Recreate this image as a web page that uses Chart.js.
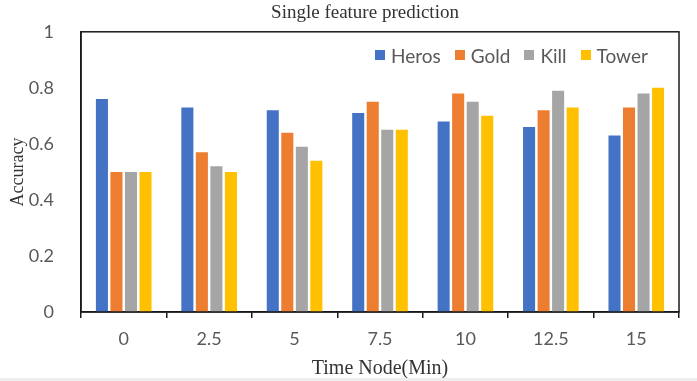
<!DOCTYPE html>
<html>
<head>
<meta charset="utf-8">
<script src="https://cdn.jsdelivr.net/npm/chart.js@4/dist/chart.umd.min.js"></script>
<style>
  html, body { margin: 0; padding: 0; background: #fff; }
  #wrap { width: 697px; height: 381px; position: relative; overflow: hidden; }
  #accChart { position: absolute; left: 0; top: 0; }
  #strip { position: absolute; left: 0; top: 378px; width: 697px; height: 3px; background: #eeeeee; }
  #legendBox { position: absolute; left: 375px; top: 43px; height: 24px; display: flex; align-items: center;
    font-family: 'Lato', sans-serif; font-size: 19px; color: #595959; white-space: nowrap; }
  #legendBox .item { display: flex; align-items: center; margin-right: 14px; }
  #legendBox .box { width: 10px; height: 10px; margin-right: 6px; }
</style>
</head>
<body>
<div id="wrap">
  <canvas id="accChart" width="697" height="381"></canvas>
  <div id="legendBox"></div>
  <div id="strip"></div>
</div>
<script>
// 시간 노드 (분)
var timeNodes = ["0", "2.5", "5", "7.5", "10", "12.5", "15"];

// 특징별 정확도
var heros = [0.76, 0.73, 0.72, 0.71, 0.68, 0.66, 0.63];
var gold  = [0.50, 0.57, 0.64, 0.75, 0.78, 0.72, 0.73];
var kill  = [0.50, 0.52, 0.59, 0.65, 0.75, 0.79, 0.78];
var tower = [0.50, 0.50, 0.54, 0.65, 0.70, 0.73, 0.80];

var seriesNames = ["Heros", "Gold", "Kill", "Tower"];
var seriesColors = ["#4472C4", "#ED7D31", "#A5A5A5", "#FFC000"];

// 차트 영역 테두리 + 제목 위치 보정
var frameBox = {
	id : 'frameBox',
	afterLayout : function(chart) {
		if (chart.titleBlock) {
			chart.titleBlock.left = 51;
			chart.titleBlock.right = 679;
		}
	},
	afterDraw : function(chart) {
		var a = chart.chartArea;
		var c = chart.ctx;
		c.save();
		c.strokeStyle = '#1a1a1a';
		c.lineWidth = 1.5;
		c.strokeRect(a.left, a.top, a.right - a.left, a.bottom - a.top);
		c.restore();
	}
};

function makeSet(i, values) {
	return {
		label : seriesNames[i],
		data : values,
		backgroundColor : seriesColors[i],
		borderWidth : 0,
		categoryPercentage : 0.68,
		barPercentage : 0.83
	};
}

// 범례 (HTML)
function drawLegend() {
	var html = '';
	for (var i = 0; i < seriesNames.length; i++) {
		html += '<div class="item"><div class="box" style="background:' + seriesColors[i] + '"></div>' + seriesNames[i] + '</div>';
	}
	document.getElementById('legendBox').innerHTML = html;
}
drawLegend();

var ctx = document.getElementById("accChart");
var myChart = new Chart(ctx, {
	type : 'bar',
	data : {
		labels : timeNodes,
		datasets : [ makeSet(0, heros), makeSet(1, gold), makeSet(2, kill), makeSet(3, tower) ]
	},
	options : {
		responsive : false,
		animation : false,
		layout : { padding : { left : 0, right : 18, top : 0, bottom : 0 } },
		plugins : {
			title : {
				display : true,
				text : 'Single feature prediction',
				color : '#333',
				font : { family : 'Liberation Serif', size : 19, weight : 'normal' },
				padding : { top : 2, bottom : 7 }
			},
			legend : { display : false },
			tooltip : { enabled : false }
		},
		scales : {
			x : {
				afterFit : function(scale) { scale.height = 69; },
				grid : {
					display : true,
					drawOnChartArea : false,
					drawTicks : true,
					tickLength : 6,
					offset : true,
					color : '#1a1a1a',
					lineWidth : 1.5
				},
				border : { display : true, color : '#1a1a1a', width : 1.5 },
				ticks : {
					color : '#595959',
					padding : 10,
					font : { family : 'Lato', size : 18 }
				},
				title : {
					display : true,
					text : 'Time Node(Min)',
					color : '#333',
					font : { family : 'Liberation Serif', size : 20 },
					padding : { top : 2, bottom : 0 }
				}
			},
			y : {
				min : 0,
				max : 1,
				afterFit : function(scale) { scale.width = 81; },
				grid : { display : false },
				border : { display : true, color : '#1a1a1a', width : 1.5 },
				ticks : {
					stepSize : 0.2,
					color : '#595959',
					padding : 19,
					font : { family : 'Lato', size : 18 },
					callback : function(value) { return String(+value.toFixed(1)); }
				},
				title : {
					display : true,
					text : 'Accuracy',
					color : '#333',
					font : { family : 'Liberation Serif', size : 18 },
					padding : { top : 7, bottom : 4 }
				}
			}
		}
	},
	plugins : [ frameBox ]
});
</script>
</body>
</html>
